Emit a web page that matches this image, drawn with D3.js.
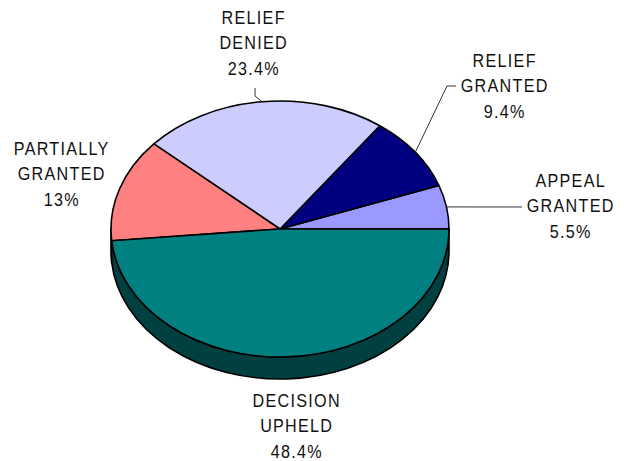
<!DOCTYPE html>
<html>
<head>
<meta charset="utf-8">
<script src="https://cdn.jsdelivr.net/npm/d3@7"></script>
<style>
  body { margin: 0; background: #fff; }
  text { font-family: "Liberation Sans", Arial, sans-serif; }
</style>
</head>
<body>
<svg id="chart" width="626" height="461"></svg>
<script>
// Outcome categories and their shares (percent)
const categories = ["APPEAL GRANTED", "RELIEF GRANTED", "RELIEF DENIED", "PARTIALLY GRANTED", "DECISION UPHELD"];
const shares = [5.5, 9.4, 23.4, 13, 48.4];
const labelLines = [["APPEAL", "GRANTED"], ["RELIEF", "GRANTED"], ["RELIEF", "DENIED"], ["PARTIALLY", "GRANTED"], ["DECISION", "UPHELD"]];

// Face and wall colours per slice
const topColors = ["#9999ff", "#000080", "#ccccff", "#ff8080", "#008080"];
const sideColors = ["#4d4d80", "#000040", "#666680", "#804040", "#004040"];

// Label placement: centre x, first baseline, leader bend points (from slice edge outwards)
const labelLayout = [
  { x: 570, y: 187, leader: [[522, 207]] },
  { x: 504, y: 67, leader: [[447, 86], [456, 86]] },
  { x: 253, y: 24, leader: [[255, 96], [255, 88]] },
  { x: 61, y: 155, leader: null },
  { x: 296, y: 407, leader: null }
];

const cx = 280, cy = 229, rx = 169, ry = 128, depth = 22;
const lineGap = 25.5;

const svg = d3.select("#chart");

const data = categories.map((c, i) => ({ name: c, value: shares[i], i }));

// Angles run counter-clockwise from the east point of the tilted disc
const pie = d3.pie().sort(null).value(d => d.value).startAngle(0).endAngle(2 * Math.PI);
const arcs = pie(data);

const pt = (phi, dy = 0) => [cx + rx * Math.cos(phi), cy - ry * Math.sin(phi) + dy];
const f = p => p[0].toFixed(2) + "," + p[1].toFixed(2);

// Front walls (only the lower half of the disc is visible)
const gSide = svg.append("g");
arcs.forEach(a => {
  const s = Math.max(a.startAngle, Math.PI);
  const e = Math.min(a.endAngle, 2 * Math.PI);
  if (e <= s) return;
  const large = (e - s) > Math.PI ? 1 : 0;
  const d = "M" + f(pt(s)) +
    " A" + rx + "," + ry + " 0 " + large + " 0 " + f(pt(e)) +
    " L" + f(pt(e, depth)) +
    " A" + rx + "," + ry + " 0 " + large + " 1 " + f(pt(s, depth)) + " Z";
  gSide.append("path")
    .attr("d", d)
    .attr("fill", sideColors[a.data.i])
    .attr("stroke", "#000")
    .attr("stroke-width", 1.6)
    .attr("stroke-linejoin", "round");
});

// Top faces
const gTop = svg.append("g");
arcs.forEach(a => {
  const s = a.startAngle, e = a.endAngle;
  const large = (e - s) > Math.PI ? 1 : 0;
  const d = "M" + cx + "," + cy +
    " L" + f(pt(s)) +
    " A" + rx + "," + ry + " 0 " + large + " 0 " + f(pt(e)) + " Z";
  gTop.append("path")
    .attr("d", d)
    .attr("fill", topColors[a.data.i])
    .attr("stroke", "#000")
    .attr("stroke-width", 1.6)
    .attr("stroke-linejoin", "round");
});

// Leader lines from slice mid-edge to label
const gLead = svg.append("g");
arcs.forEach(a => {
  const lay = labelLayout[a.data.i];
  if (!lay.leader) return;
  const mid = (a.startAngle + a.endAngle) / 2;
  const pts = [pt(mid)].concat(lay.leader);
  gLead.append("path")
    .attr("d", d3.line()(pts))
    .attr("fill", "none")
    .attr("stroke", "#333")
    .attr("stroke-width", 1);
});

// Labels: tall, narrow lettering with open tracking
const gLab = svg.append("g");
arcs.forEach(a => {
  const i = a.data.i;
  const lay = labelLayout[i];
  const lines = labelLines[i].concat([a.data.value + "%"]);
  const t = gLab.append("text")
    .attr("transform", "translate(" + (lay.x + 0.7) + ",0) scale(0.85,1)")
    .attr("text-anchor", "middle")
    .attr("font-size", 19)
    .attr("letter-spacing", 1.5)
    .attr("fill", "#111");
  lines.forEach((ln, k) => {
    t.append("tspan")
      .attr("x", 0)
      .attr("y", lay.y + k * lineGap)
      .text(ln);
  });
});
</script>
</body>
</html>
